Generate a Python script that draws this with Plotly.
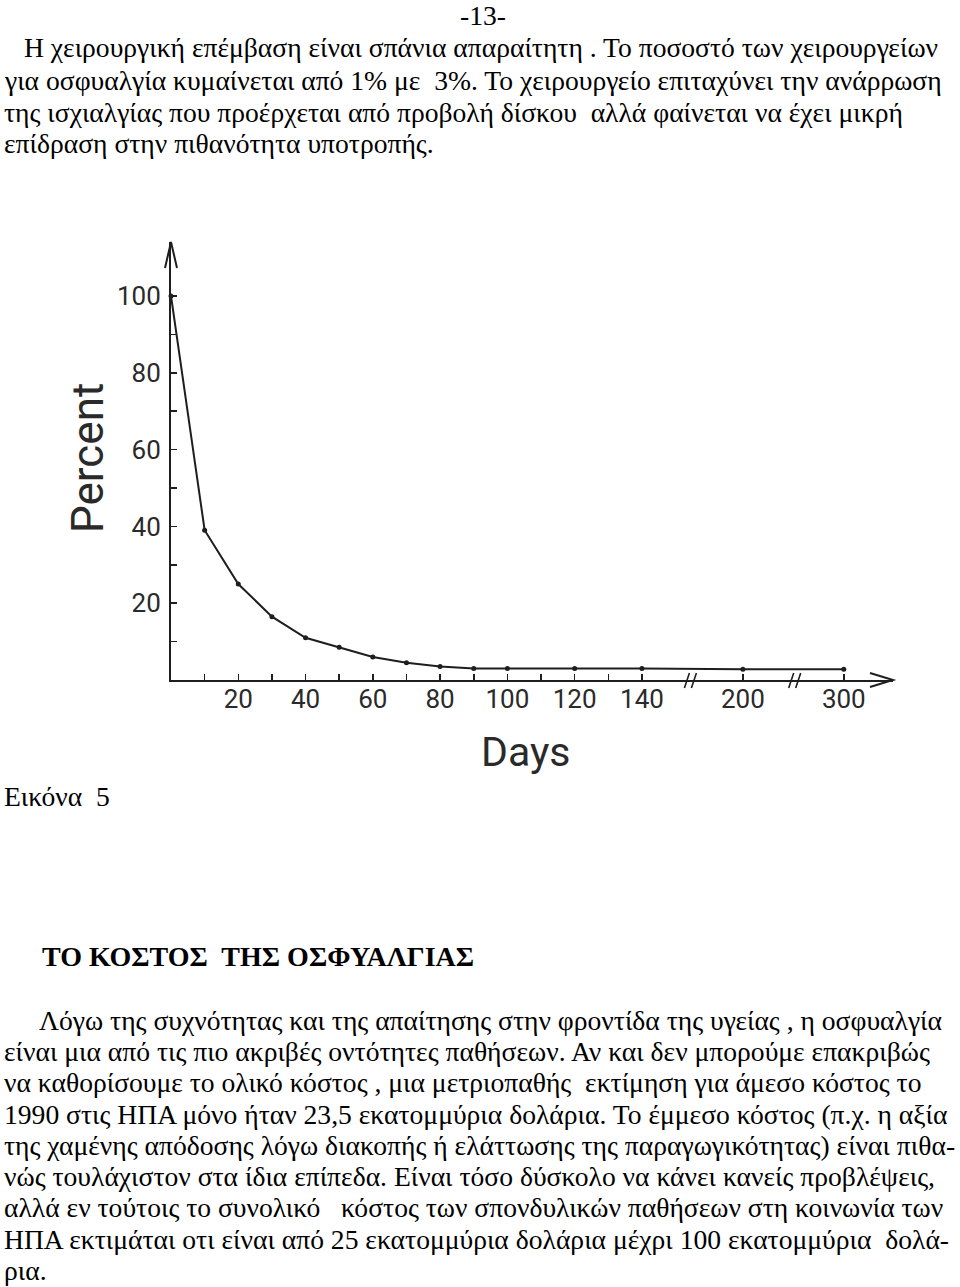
import plotly.graph_objects as go

# ---------------- data ----------------
days = [0, 10, 20, 30, 40, 50, 60, 70, 80, 90, 100, 120, 140, 200, 300]
percent = [100, 39, 25, 16.5, 11, 8.5, 6, 4.5, 3.5, 3, 3, 3, 3, 2.8, 2.8]

x_tick_days = [20, 40, 60, 80, 100, 120, 140, 200, 300]
x_tick_labels = ["20", "40", "60", "80", "100", "120", "140", "200", "300"]
x_minor_days = [10, 30, 50, 70, 90, 110, 130]
y_tick_vals = [20, 40, 60, 80, 100]
y_minor_vals = [10, 30, 50, 70, 90]

# broken axis: days beyond 140 are compressed (140 -> 140, 200 -> 170, 300 -> 200)
break_days = [(140, 140), (200, 170), (300, 200)]


def axis_pos(d):
    if d <= 140:
        return d
    for (d0, p0), (d1, p1) in zip(break_days[:-1], break_days[1:]):
        if d <= d1:
            return p0 + (d - d0) * (p1 - p0) / (d1 - d0)
    return break_days[-1][1]


break_marks = [155, 186]

page_number = "-13-"
para1 = [
    "Η χειρουργική επέμβαση είναι σπάνια απαραίτητη . Το ποσοστό των χειρουργείων",
    "για οσφυαλγία κυμαίνεται από 1% με  3%. Το χειρουργείο επιταχύνει την ανάρρωση",
    "της ισχιαλγίας που προέρχεται από προβολή δίσκου  αλλά φαίνεται να έχει μικρή",
    "επίδραση στην πιθανότητα υποτροπής.",
]
caption = "Εικόνα  5"
heading = "ΤΟ ΚΟΣΤΟΣ  ΤΗΣ ΟΣΦΥΑΛΓΙΑΣ"
para2 = [
    "Λόγω της συχνότητας και της απαίτησης στην φροντίδα της υγείας , η οσφυαλγία",
    "είναι μια από τις πιο ακριβές οντότητες παθήσεων. Αν και δεν μπορούμε επακριβώς",
    "να καθορίσουμε το ολικό κόστος , μια μετριοπαθής  εκτίμηση για άμεσο κόστος το",
    "1990 στις ΗΠΑ μόνο ήταν 23,5 εκατομμύρια δολάρια. Το έμμεσο κόστος (π.χ. η αξία",
    "της χαμένης απόδοσης λόγω διακοπής ή ελάττωσης της παραγωγικότητας) είναι πιθα-",
    "νώς τουλάχιστον στα ίδια επίπεδα. Είναι τόσο δύσκολο να κάνει κανείς προβλέψεις,",
    "αλλά εν τούτοις το συνολικό   κόστος των σπονδυλικών παθήσεων στη κοινωνία των",
    "ΗΠΑ εκτιμάται οτι είναι από 25 εκατομμύρια δολάρια μέχρι 100 εκατομμύρια  δολά-",
    "ρια.",
]

# ---------------- layout geometry ----------------
W, H = 960, 1287
X0_PX, X_END_PX = 171, 893   # page pixels
Y0_PX, Y_TOP_PX = 680, 242
PX_PER_DAY = 3.364
PX_PER_PCT = 3.84


def fx(px):
    return px / W


def fy(py):
    return 1 - py / H


x_range = [0, (X_END_PX - X0_PX) / PX_PER_DAY]
y_range = [0, (Y0_PX - Y_TOP_PX) / PX_PER_PCT]
x_dom = [fx(X0_PX), fx(X_END_PX)]
y_dom = [fy(Y0_PX), fy(Y_TOP_PX)]


def x_paper(pos):
    return x_dom[0] + (pos - x_range[0]) / (x_range[1] - x_range[0]) * (x_dom[1] - x_dom[0])


INK = "#1e1e1e"
SANS = "Roboto, DejaVu Sans, sans-serif"
TICK_FONT = dict(family=SANS, size=26, color="#2a2a2a")
SERIF = "Liberation Serif, Times New Roman, serif"

fig = go.Figure()
fig.add_trace(
    go.Scatter(
        x=[axis_pos(d) for d in days],
        y=percent,
        mode="lines+markers",
        line=dict(color=INK, width=2),
        marker=dict(color=INK, size=5),
        hoverinfo="skip",
        showlegend=False,
        cliponaxis=False,
    )
)

axis_common = dict(
    showgrid=False,
    zeroline=False,
    showline=True,
    linecolor=INK,
    linewidth=2,
    ticks="inside",
    ticklen=6,
    tickwidth=1.5,
    tickcolor=INK,
    tickfont=TICK_FONT,
    fixedrange=True,
)
minor_common = dict(ticks="inside", ticklen=6, tickwidth=1.5, tickcolor=INK, showgrid=False)

fig.update_layout(
    width=W,
    height=H,
    margin=dict(l=0, r=0, t=0, b=0),
    paper_bgcolor="white",
    plot_bgcolor="white",
    showlegend=False,
    xaxis=dict(
        domain=x_dom,
        range=x_range,
        tickvals=[axis_pos(d) for d in x_tick_days],
        ticktext=x_tick_labels,
        ticklabelstandoff=-5,
        minor=dict(tickvals=[axis_pos(d) for d in x_minor_days], **minor_common),
        **axis_common,
    ),
    yaxis=dict(
        domain=y_dom,
        range=y_range,
        tickvals=y_tick_vals,
        ticktext=[str(v) for v in y_tick_vals],
        ticklabelstandoff=3,
        minor=dict(tickvals=y_minor_vals, **minor_common),
        **axis_common,
    ),
)

shapes = []
# arrowheads (open chevrons) at the axis ends
shapes.append(dict(
    type="path", xref="paper", yref="paper",
    xsizemode="pixel", ysizemode="pixel",
    xanchor=x_dom[1], yanchor=y_dom[0],
    path="M -23,7 L 0,0 L -23,-7",
    line=dict(color=INK, width=2),
))
shapes.append(dict(
    type="path", xref="paper", yref="paper",
    xsizemode="pixel", ysizemode="pixel",
    xanchor=x_dom[0], yanchor=y_dom[1],
    path="M -6,-26 L 0,0 L 6,-26",
    line=dict(color=INK, width=2),
))
# axis break marks "//"
for bm in break_marks:
    shapes.append(dict(
        type="path", xref="paper", yref="paper",
        xsizemode="pixel", ysizemode="pixel",
        xanchor=x_paper(bm), yanchor=y_dom[0],
        path="M -8,-8 L -3,7 M -1,-8 L 4,7",
        line=dict(color=INK, width=1.6),
    ))
fig.update_layout(shapes=shapes)

annotations = []
# axis titles
annotations.append(dict(
    text="Percent", x=fx(88), y=fy(458), xref="paper", yref="paper",
    showarrow=False, textangle=-90, xanchor="center", yanchor="middle",
    font=dict(family=SANS, size=44, color="#2a2a2a"),
))
annotations.append(dict(
    text="Days", x=fx(525), y=fy(752), xref="paper", yref="paper",
    showarrow=False, xanchor="center", yanchor="middle",
    font=dict(family=SANS, size=41, color="#2a2a2a"),
))

TEXT_FONT = dict(family=SERIF, size=27.6, color="black")
annotations.append(dict(
    text=page_number, x=fx(483), y=fy(15), xref="paper", yref="paper",
    showarrow=False, xanchor="center", yanchor="middle", font=TEXT_FONT,
))

p1_y = [47, 80, 112, 144]
p1_x = [22, 2, 2, 2]
for t, yy, xx in zip(para1, p1_y, p1_x):
    annotations.append(dict(
        text=t, x=fx(xx), y=fy(yy), xref="paper", yref="paper",
        showarrow=False, xanchor="left", yanchor="middle", font=TEXT_FONT,
    ))

annotations.append(dict(
    text=caption, x=fx(2), y=fy(796), xref="paper", yref="paper",
    showarrow=False, xanchor="left", yanchor="middle", font=TEXT_FONT,
))
annotations.append(dict(
    text="<b>" + heading + "</b>", x=fx(40), y=fy(956), xref="paper", yref="paper",
    showarrow=False, xanchor="left", yanchor="middle",
    font=dict(family=SERIF, size=28, color="black"),
))

p2_y = [1020, 1051, 1082, 1114, 1145, 1176, 1207, 1239, 1270]
p2_x = [37] + [2] * 8
for t, yy, xx in zip(para2, p2_y, p2_x):
    annotations.append(dict(
        text=t, x=fx(xx), y=fy(yy), xref="paper", yref="paper",
        showarrow=False, xanchor="left", yanchor="middle", font=TEXT_FONT,
    ))

fig.update_layout(annotations=annotations)

fig.write_html(
    "out.html",
    config={"displayModeBar": False, "staticPlot": True},
    post_script="document.body.style.margin='0';"
    "document.documentElement.style.overflow='hidden';",
)
